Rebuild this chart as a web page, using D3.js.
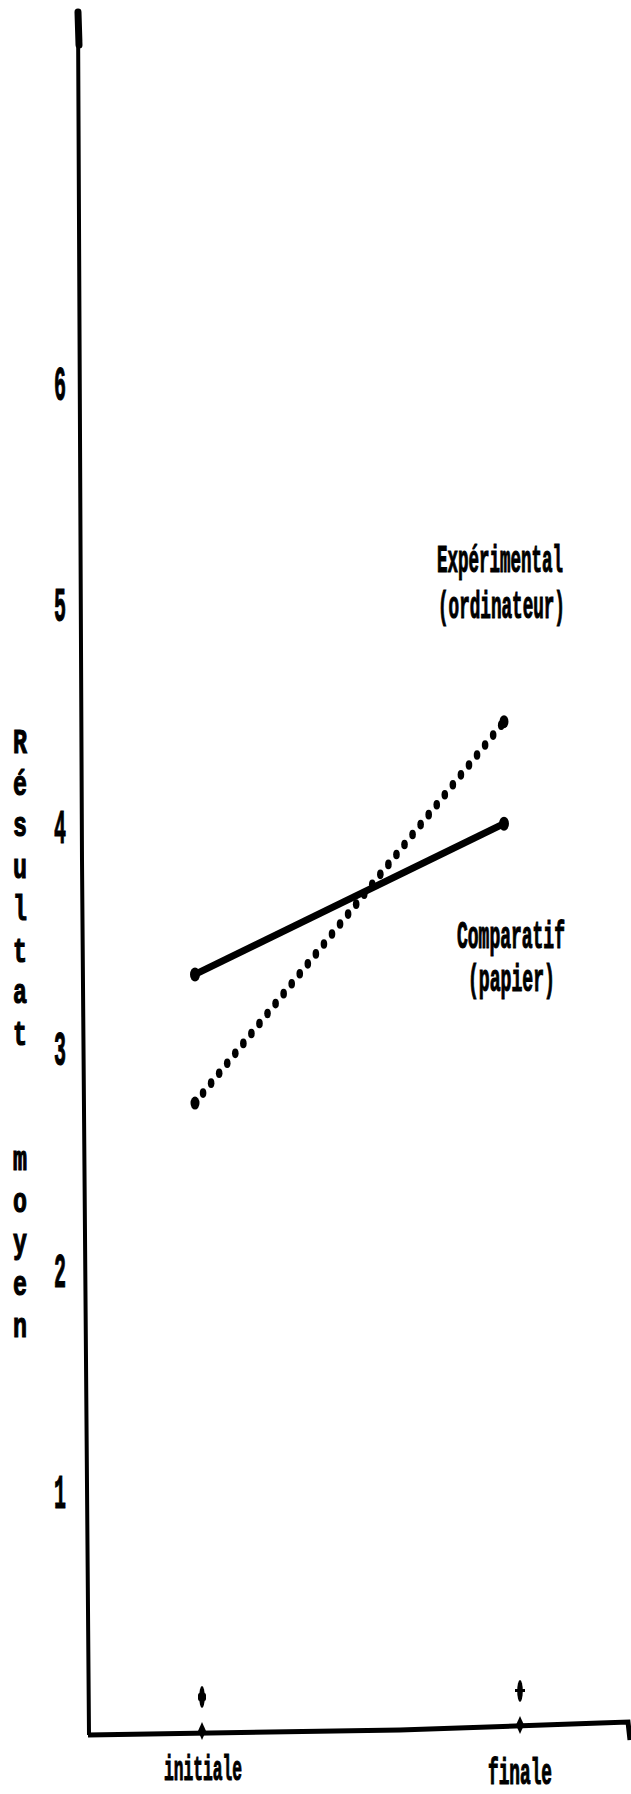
<!DOCTYPE html>
<html>
<head>
<meta charset="utf-8">
<script src="https://cdn.jsdelivr.net/npm/d3@7"></script>
<style>
  body { margin: 0; background: #fff; }
  text { font-family: "Liberation Mono", "DejaVu Sans Mono", monospace; font-weight: bold; fill: #000; stroke: #000; stroke-width: 1.2; }
</style>
</head>
<body>
<div id="chart"></div>
<script>
// data
const periods = ['initiale', 'finale']
const comparatif = [3.34, 4.02]
const experimental = [2.76, 4.48]
const yTickValues = [1, 2, 3, 4, 5, 6]
const yTitle = 'Résultat  moyen'
const groupLabels = [
    { lines: ['Expérimental', '(ordinateur)'] },
    { lines: ['Comparatif', '(papier)'] }
]

const width = 631
const height = 1794

const svg = d3.select('#chart').append('svg')
    .attr('width', width)
    .attr('height', height)

// narrow typewriter look: draw with a big font, squeeze to the wanted width
function squeezeText(sel, str, x, y, fs, w) {
    const t = sel.append('text')
        .attr('font-size', fs)
        .text(str)
    const nat = t.node().getComputedTextLength()
    t.attr('transform', `translate(${x},${y}) scale(${w / nat},1)`)
    return t
}

// scales
const yScale = d3.scaleLinear()
    .domain([0, 7.69])
    .range([1715, 10])
const xScale = d3.scaleLinear()
    .domain([0, periods.length - 1])
    .range([195, 504])
// the tick marks of the scan sit a bit right of the data points
const xTickScale = d3.scaleLinear()
    .domain([0, periods.length - 1])
    .range([202, 520])

// axes (slightly tilted, like the scan)
svg.append('path')
    .attr('d', 'M78,10 L82,860 L89,1735')
    .attr('stroke', '#000')
    .attr('stroke-width', 4)
    .attr('fill', 'none')
svg.append('path')
    .attr('d', 'M78,12 L79,45')
    .attr('stroke', '#000')
    .attr('stroke-width', 7)
    .attr('stroke-linecap', 'round')
svg.append('path')
    .attr('d', 'M88,1735 L400,1730 L600,1723 L628,1722 L630,1740')
    .attr('stroke', '#000')
    .attr('stroke-width', 5)
    .attr('fill', 'none')

// y tick labels
const yTickG = svg.append('g')
yTickValues.forEach(v => {
    squeezeText(yTickG, String(v), 54, yScale(v) + 15, 48, 12)
})

// y axis title, one letter per row
const yTitleG = svg.append('g')
yTitle.split('').forEach((c, i) => {
    if (c === ' ') return
    squeezeText(yTitleG, c, 13, 742 + i * 41.7 + 11, 36, 14)
})

// x ticks
const tickG = svg.append('g')
periods.forEach((p, i) => {
    const x = xTickScale(i)
    const yAxis = i === 0 ? 1731 : 1725
    tickG.append('ellipse')
        .attr('cx', x).attr('cy', yAxis - 34)
        .attr('rx', 2.8).attr('ry', 11)
    if (i === 1) {
        tickG.append('rect')
            .attr('x', x - 5).attr('y', yAxis - 36)
            .attr('width', 10).attr('height', 3)
    } else {
        tickG.append('rect')
            .attr('x', x - 4).attr('y', yAxis - 38)
            .attr('width', 8).attr('height', 8)
            .attr('rx', 2)
    }
    tickG.append('path')
        .attr('d', `M${x},${yAxis - 9} L${x + 4},${yAxis} L${x},${yAxis + 9} L${x - 4},${yAxis} Z`)
})

// x labels
const xLabelSpec = [
    { x: 164, y: 1780, w: 78 },
    { x: 488, y: 1784, w: 64 }
]
const xLabelG = svg.append('g')
periods.forEach((p, i) => {
    squeezeText(xLabelG, p, xLabelSpec[i].x, xLabelSpec[i].y, 36, xLabelSpec[i].w)
})

// lines
const line = d3.line()
    .x((d, i) => xScale(i))
    .y(d => yScale(d))

svg.append('path')
    .datum(comparatif)
    .attr('d', line)
    .attr('stroke', '#000')
    .attr('stroke-width', 7)
    .attr('fill', 'none')
svg.append('g')
    .selectAll('ellipse')
    .data(comparatif)
    .join('ellipse')
    .attr('cx', (d, i) => xScale(i))
    .attr('cy', d => yScale(d))
    .attr('rx', 5)
    .attr('ry', 7)

// dotted line: a guide path, then one dot every few pixels along it
const expPath = svg.append('path')
    .datum(experimental)
    .attr('d', line)
    .attr('stroke', 'none')
    .attr('fill', 'none')
const expLen = expPath.node().getTotalLength()
const dotStep = 12.8
const dots = d3.range(0, expLen + 0.1, dotStep).map(l => expPath.node().getPointAtLength(l))
svg.append('g')
    .selectAll('ellipse')
    .data(dots)
    .join('ellipse')
    .attr('cx', d => d.x)
    .attr('cy', d => d.y)
    .attr('rx', 3.3)
    .attr('ry', 4.8)
svg.append('g')
    .selectAll('ellipse')
    .data(experimental)
    .join('ellipse')
    .attr('cx', (d, i) => xScale(i))
    .attr('cy', d => yScale(d))
    .attr('rx', 4.5)
    .attr('ry', 6.5)

// group labels
const labelSpec = [
    [{ x: 437, y: 572, w: 126 }, { x: 438, y: 618, w: 127 }],
    [{ x: 457, y: 948, w: 108 }, { x: 468, y: 991, w: 87 }]
]
const labelG = svg.append('g')
groupLabels.forEach((g, gi) => {
    g.lines.forEach((t, li) => {
        const s = labelSpec[gi][li]
        squeezeText(labelG, t, s.x, s.y, 38, s.w)
    })
})
</script>
</body>
</html>
